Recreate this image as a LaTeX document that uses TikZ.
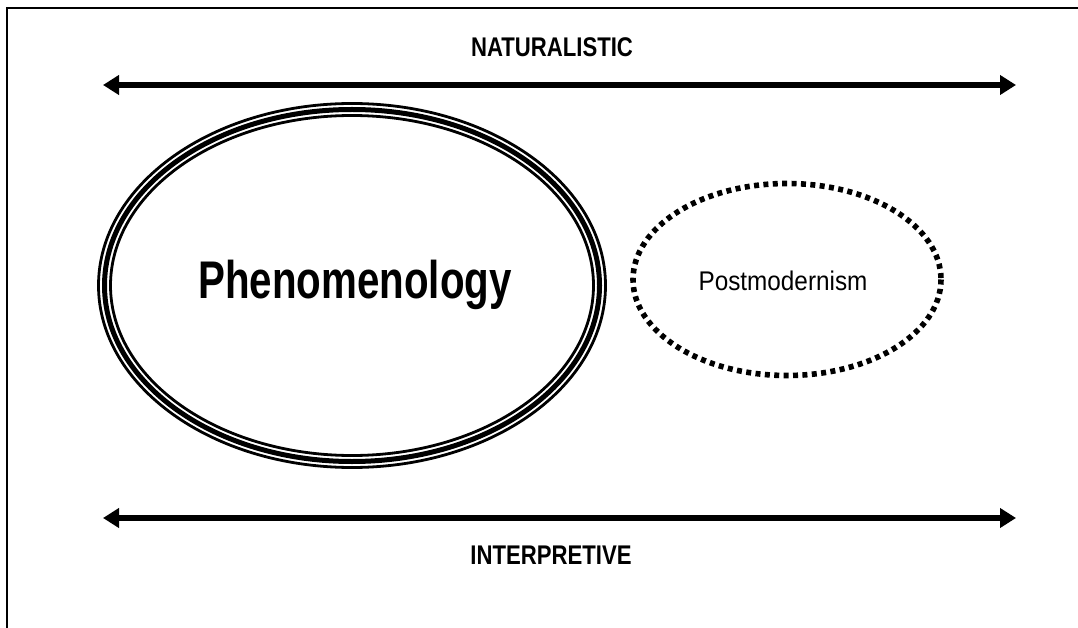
\documentclass[tikz,border=0pt]{standalone}
\usepackage{fontspec}
\setmainfont{Liberation Sans}
\usetikzlibrary{arrows.meta}
\begin{document}
\begin{tikzpicture}[x=1pt,y=-1pt,
  axisarrow/.style={line width=5.5pt,{Triangle[length=16pt,width=19pt]}-{Triangle[length=16pt,width=19pt]}},
  axislabel/.style={inner sep=0pt},
  framestroke/.style={line width=1.5pt},
  dotted ring/.style={line width=5.6pt,dash pattern=on 5pt off 4.4pt}]
\useasboundingbox (0,0) rectangle (1078,628);
% open frame: top and left edges
\coordinate (fl) at (7,628);
\coordinate (ft) at (7,8);
\coordinate (fr) at (1078,8);
\draw[framestroke] (fl) -- (ft) -- (fr);

% horizontal axes
\coordinate (a1) at (103,85);
\coordinate (a2) at (1016,85);
\coordinate (b1) at (103,518);
\coordinate (b2) at (1016,518);
\draw[axisarrow] (a1) -- (a2);
\draw[axisarrow] (b1) -- (b2);
\newcommand{\axistext}[1]{\scalebox{0.82}[1]{\bfseries\fontsize{27}{31}\selectfont #1}}
\node[axislabel] (nat) at (552,47) {\axistext{NATURALISTIC}};
\node[axislabel] (int) at (551,555) {\axistext{INTERPRETIVE}};

% triple-lined ellipse
\coordinate (pc) at (352,285.5);
\draw[line width=2.8pt] (pc) ellipse [x radius=253.5, y radius=182];
\draw[line width=5pt] (pc) ellipse [x radius=247.5, y radius=176];
\draw[line width=2.8pt] (pc) ellipse [x radius=241.5, y radius=170];
\node[inner sep=0pt] (phen) at (355,285) {\scalebox{0.76}[1]{\bfseries\fontsize{53}{58}\selectfont Phenomenology}};

% dotted ellipse
\coordinate (mc) at (787,279.5);
\draw[dotted ring] (mc) ellipse [x radius=154, y radius=96];
\node[inner sep=0pt] (post) at (783,281) {\scalebox{0.9}[1]{\fontsize{27}{31}\selectfont Postmodernism}};
\end{tikzpicture}
\end{document}
